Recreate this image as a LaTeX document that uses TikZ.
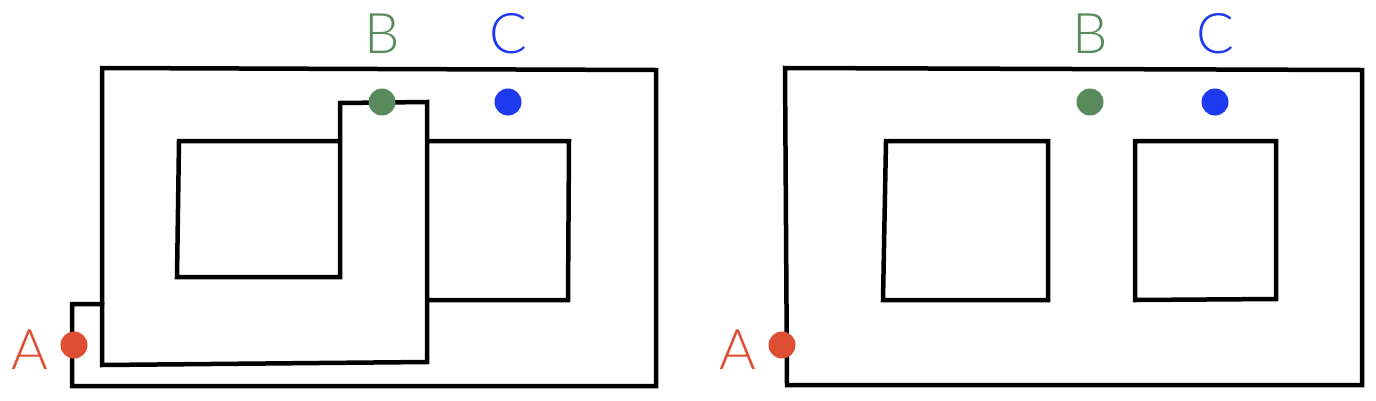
\documentclass[tikz,border=0pt]{standalone}
\usepackage{fontspec}
\setmainfont{Lato}[UprightFont=* Light]
\definecolor{ared}{RGB}{222,78,50}
\definecolor{bgreen}{RGB}{88,138,94}
\definecolor{cblue}{RGB}{30,58,238}
\tikzset{
  wall/.style={draw=black,line width=4.5pt,line join=miter},
  dot/.style={circle,inner sep=0pt,minimum size=27pt},
  lbl/.style={inner sep=0pt,font=\fontsize{56}{60}\selectfont},
}
\begin{document}
\begin{tikzpicture}[x=1pt,y=-1pt]
\useasboundingbox[fill=white] (0,0) rectangle (1376,400);
% ---- left figure ----
\draw[wall] (102,304) -- (102,68) -- (656,70) -- (656,386) -- (72,386) -- (72,304) -- (104,304);
\draw[wall] (102,302) -- (102,365) -- (427,362) -- (427,102) -- (340,103) -- (340,277) -- (177,277) -- (179,141) -- (342,141);
\draw[wall] (425,141) -- (569,141) -- (568,300) -- (425,300);
\node[dot,fill=ared] (A1) at (74,345) {};
\node[dot,fill=bgreen] (B1) at (382,102) {};
\node[dot,fill=cblue] (C1) at (508,102) {};
\node[lbl,text=ared] (LA1) at (30,350) {A};
\node[lbl,text=bgreen] (LB1) at (382,34) {B};
\node[lbl,text=cblue] (LC1) at (508,34) {C};
% ---- right figure ----
\draw[wall] (785,68) -- (1362,70) -- (1362,385) -- (787,385) -- cycle;
\draw[wall] (886,141) -- (1048,141) -- (1048,300) -- (883,300) -- cycle;
\draw[wall] (1135,141) -- (1276,141) -- (1276,299) -- (1135,300) -- cycle;
\node[dot,fill=ared] (A2) at (782,345) {};
\node[dot,fill=bgreen] (B2) at (1090,102) {};
\node[dot,fill=cblue] (C2) at (1215,102) {};
\node[lbl,text=ared] (LA2) at (738,350) {A};
\node[lbl,text=bgreen] (LB2) at (1090,34) {B};
\node[lbl,text=cblue] (LC2) at (1215,34) {C};
\end{tikzpicture}
\end{document}
